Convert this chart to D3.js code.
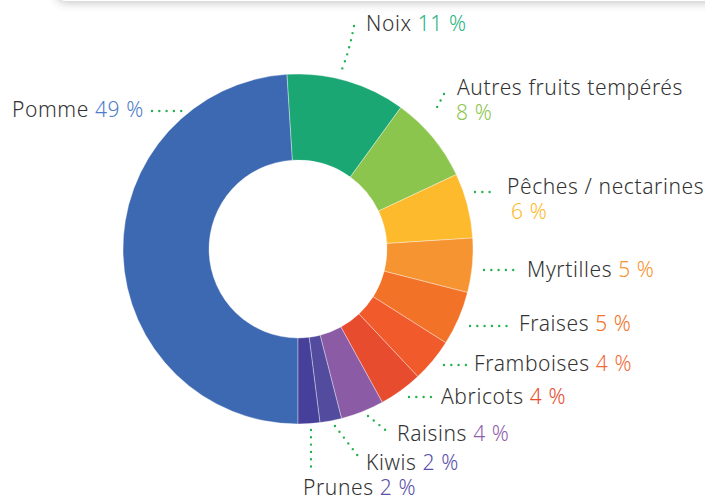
<!DOCTYPE html>
<html>
<head>
<meta charset="utf-8">
<script src="https://cdn.jsdelivr.net/npm/d3@7/dist/d3.min.js"></script>
<style>
  html, body { margin: 0; padding: 0; background: #fff; }
  svg { display: block; }
  text { font-family: "Noto Sans", "Open Sans", sans-serif; font-size: 21px; font-weight: 300; letter-spacing: 0.6px; }
</style>
</head>
<body>
<svg id="chart" width="705" height="497"></svg>
<script>
// ---- data ----
const categories = ["Pomme", "Noix", "Autres fruits tempérés", "Pêches / nectarines", "Myrtilles", "Fraises", "Framboises", "Abricots", "Raisins", "Kiwis", "Prunes"];
const values = [49, 11, 8, 6, 5, 5, 4, 4, 4, 2, 2];
const percentLabels = ["49 %", "11 %", "8 %", "6 %", "5 %", "5 %", "4 %", "4 %", "4 %", "2 %", "2 %"];
const sliceColors = ["#3d69b2", "#1ba774", "#8cc54e", "#fdba2c", "#f69431", "#f27227", "#f15a2b", "#e84c2e", "#8b5ba6", "#534b9e", "#46409a"];
const pctColors = ["#4e7dc9", "#27b37f", "#8cc54e", "#fdba2c", "#f69431", "#f27227", "#f26a3b", "#e84c2e", "#9060ab", "#5a50ab", "#5a50ab"];

// ---- layout ----
const cx = 298, cy = 249, rOuter = 175, rInner = 89;
const svg = d3.select("#chart");

// top card shadow
const defs = svg.append("defs");
const f = defs.append("filter").attr("id", "sh").attr("x", "-10%").attr("y", "-50%").attr("width", "120%").attr("height", "200%");
f.append("feGaussianBlur").attr("in", "SourceAlpha").attr("stdDeviation", 5);
f.append("feOffset").attr("dy", 2).attr("result", "b");
f.append("feFlood").attr("flood-color", "#000").attr("flood-opacity", 0.22);
f.append("feComposite").attr("in2", "b").attr("operator", "in");
const m = f.append("feMerge"); m.append("feMergeNode"); m.append("feMergeNode").attr("in", "SourceGraphic");
svg.append("rect").attr("x", 55).attr("y", -40).attr("width", 720).attr("height", 41)
  .attr("rx", 12).attr("fill", "#fff").attr("filter", "url(#sh)");

const data = categories.map((c, i) => ({ name: c, value: values[i], pct: percentLabels[i], color: sliceColors[i], pctColor: pctColors[i] }));

const pie = d3.pie().value(d => d.value).sort(null).startAngle(Math.PI).endAngle(3 * Math.PI);
const arc = d3.arc().innerRadius(rInner).outerRadius(rOuter);

const g = svg.append("g").attr("transform", `translate(${cx},${cy})`);
g.selectAll("path").data(pie(data)).join("path")
  .attr("d", arc)
  .attr("fill", d => d.data.color)
  .attr("stroke", "#ffffff")
  .attr("stroke-opacity", 0.6)
  .attr("stroke-width", 0.6);

// label placement (leader line endpoints & text anchor positions)
const labelPos = {
  "Pomme":                  { lines: [[152,111],[182,111]], tx: 12, ty: 117, twoLine: false },
  "Noix":                   { lines: [[354,26],[351,40],[347,55],[341,72]], tx: 366, ty: 31, twoLine: false, curve: true },
  "Autres fruits tempérés": { lines: [[444,94],[435,111]], tx: 457, ty: 95, twoLine: true, tx2: 456, dy2: 25 },
  "Pêches / nectarines":    { lines: [[475,192],[496,192]], tx: 507, ty: 194, twoLine: true, tx2: 511, dy2: 25 },
  "Myrtilles":              { lines: [[484,270],[518,270]], tx: 527, ty: 277, twoLine: false },
  "Fraises":                { lines: [[470,326],[509,326]], tx: 519, ty: 331, twoLine: false },
  "Framboises":             { lines: [[444,365],[470,365]], tx: 474, ty: 371, twoLine: false },
  "Abricots":               { lines: [[409,397],[434,397]], tx: 441, ty: 404, twoLine: false },
  "Raisins":                { lines: [[368,416],[388,432]], tx: 397, ty: 441, twoLine: false },
  "Kiwis":                  { lines: [[335,426],[358,456]], tx: 366, ty: 470, twoLine: false },
  "Prunes":                 { lines: [[311,430],[311,468]], tx: 303, ty: 495, twoLine: false }
};

const line = d3.line();
const curveLine = d3.line().curve(d3.curveCatmullRom);
const labels = svg.append("g");
data.forEach(d => {
  const p = labelPos[d.name];
  labels.append("path")
    .attr("d", (p.curve ? curveLine : line)(p.lines))
    .attr("fill", "none")
    .attr("stroke", "#22b24c")
    .attr("stroke-width", 2.4)
    .attr("stroke-linecap", "round")
    .attr("stroke-dasharray", "0 7.3");
  const t = labels.append("text").attr("x", p.tx).attr("y", p.ty).attr("fill", "#333");
  if (p.twoLine) {
    t.append("tspan").text(d.name);
    t.append("tspan").attr("x", p.tx2).attr("dy", p.dy2).attr("fill", d.pctColor).text(d.pct);
  } else {
    t.append("tspan").text(d.name + " ");
    t.append("tspan").attr("fill", d.pctColor).text(d.pct);
  }
});
</script>
</body>
</html>
